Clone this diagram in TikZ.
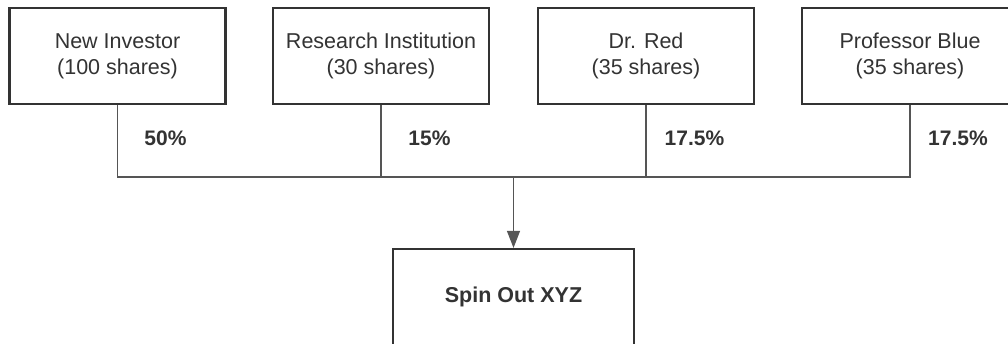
\documentclass[tikz,border=0pt]{standalone}
\usepackage{fontspec}
\setmainfont{Liberation Sans}
\usetikzlibrary{arrows.meta}
\definecolor{ink}{HTML}{333333}
\definecolor{wire}{HTML}{555555}
\tikzset{
  party/.style={draw=ink, line width=2.2pt, fill=white, minimum width=216pt, minimum height=96pt,
    align=center, text=ink, font=\fontsize{21.5}{26}\selectfont, inner sep=0pt},
  pct/.style={anchor=center, text=ink, font=\fontsize{21}{24}\selectfont\bfseries, inner sep=0pt},
  wireline/.style={draw=wire, line width=1.1pt},
}
\begin{document}
\begin{tikzpicture}[x=1pt,y=-1pt]
\useasboundingbox (0,0) rectangle (1008,343);
\clip (0,0) rectangle (1008,343);
\fill[white] (0,0) rectangle (1008,343);
\node[party] (b1) at (117.5,56) {New Investor\\(100 shares)};
\node[party] (b2) at (381,56) {Research Institution\\(30 shares)};
\node[party] (b3) at (646,56) {Dr. Red\\(35 shares)};
\node[party] (b4) at (910,56) {Professor Blue\\(35 shares)};
\node[party, minimum width=241pt] (s) at (513.5,297) {\bfseries Spin Out XYZ};
\coordinate (h) at (0,177);
\draw[wireline] (b1.south) -- (b1.south |- h) -- (b4.south |- h) -- (b4.south);
\draw[wireline] (b2.south) -- (b2.south |- h);
\draw[wireline] (b3.south) -- (b3.south |- h);
\draw[wireline, -{Triangle[width=13pt,length=17pt]}] (s.north |- h) -- (s.north);
\node[pct] (p1) at (165.5,138) {50\%};
\node[pct] (p2) at (429.5,138) {15\%};
\node[pct] (p3) at (694.5,138) {17.5\%};
\node[pct] (p4) at (958,138) {17.5\%};
\end{tikzpicture}
\end{document}
